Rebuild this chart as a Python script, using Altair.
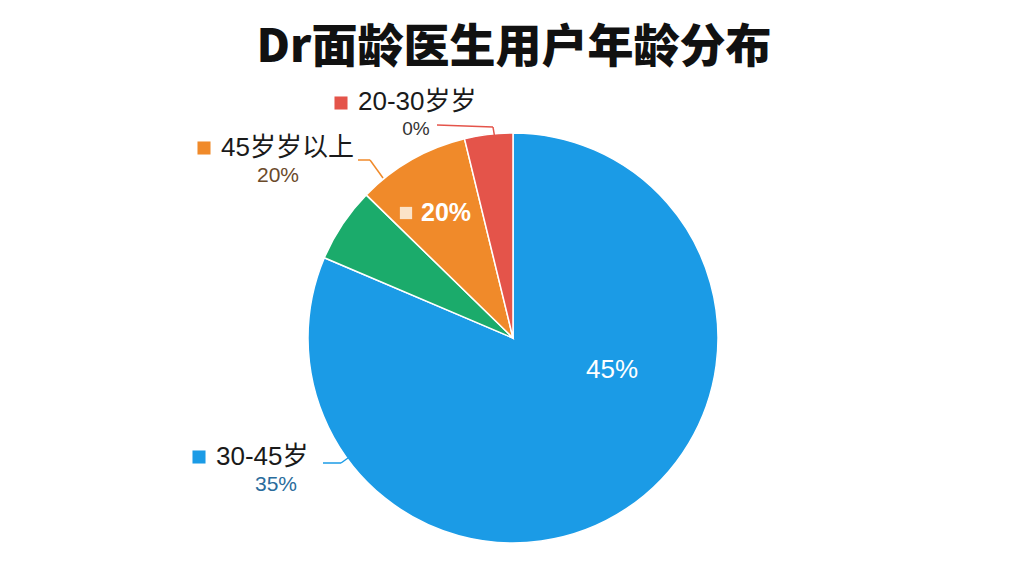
import altair as alt
import pandas as pd

categories = ["30-45岁", "其他", "45岁岁以上", "20-30岁岁"]
shares = [81.4, 5.9, 8.9, 3.8]
colors = ["#1b9be6", "#1bab6b", "#f08a2a", "#e4544a"]

# label texts as printed in the picture
legend_names = ["20-30岁岁", "45岁岁以上", "30-45岁"]
legend_pcts = ["0%", "20%", "35%"]
inner_labels = ["45%", "20%"]
title_text = "Dr面龄医生用户年龄分布"

W, H = 1008, 560
CX, CY, R = 505, 330, 205
FONT = "Noto Sans CJK SC"
LFONT = "Liberation Sans, Noto Sans CJK SC"

pie_df = pd.DataFrame({"cat": categories, "share": shares, "idx": list(range(len(categories)))})

pie = alt.Chart(pie_df).mark_arc(radius=R, stroke="white", strokeWidth=1.5).encode(
    theta=alt.Theta("share:Q", stack=True),
    order=alt.Order("idx:Q"),
    color=alt.Color("cat:N", scale=alt.Scale(domain=categories, range=colors), legend=None),
    x=alt.value(CX),
    y=alt.value(CY),
)

def txt(s, x, y, size, color, weight="normal", align="left", font=LFONT, baseline="middle"):
    return alt.Chart(pd.DataFrame({"t": [s]})).mark_text(
        font=font, fontSize=size, fontWeight=weight, color=color, align=align, baseline=baseline
    ).encode(text="t:N", x=alt.value(x), y=alt.value(y))

def sq(x, y, color, size=170):
    return alt.Chart(pd.DataFrame({"a": [0]})).mark_point(
        shape="square", filled=True, opacity=1, color=color, size=size
    ).encode(x=alt.value(x), y=alt.value(y))

def seg(x1, y1, x2, y2, color, w=1.5):
    return alt.Chart(pd.DataFrame({"a": [0]})).mark_rule(color=color, strokeWidth=w).encode(
        x=alt.value(x1), y=alt.value(y1), x2=alt.value(x2), y2=alt.value(y2)
    )

layers = [
    pie,
    txt(title_text, 506, 54, 46, "#111111", weight=900, align="center", font=FONT, baseline="alphabetic"),
    # 20-30
    sq(333, 95, colors[3]),
    txt(legend_names[0], 350, 94, 26, "#1a1a1a"),
    txt(legend_pcts[0], 408, 121, 19, "#333333", align="center"),
    seg(429, 117, 485, 119, colors[3]),
    seg(485, 119, 487, 131, colors[3]),
    # 45+
    sq(196, 140, colors[2]),
    txt(legend_names[1], 213, 140, 26, "#1a1a1a"),
    txt(legend_pcts[1], 270, 168, 21, "#6b4a2a", align="center"),
    seg(350, 152, 362, 152, colors[2]),
    seg(362, 152, 375, 170, colors[2]),
    # 30-45
    sq(191, 449, colors[0]),
    txt(legend_names[2], 208, 449, 26, "#1a1a1a"),
    txt(legend_pcts[2], 268, 477, 21, "#2a6c9c", align="center"),
    seg(315, 455, 333, 455, colors[0]),
    seg(333, 455, 340, 450, colors[0]),
    # inner labels
    txt(inner_labels[0], 604, 362, 26, "white", weight="normal", align="center"),
    sq(398, 205, "#fbe3c8", size=150),
    txt(inner_labels[1], 413, 205, 25, "white", weight="bold"),
]

chart = alt.layer(*layers).properties(
    width=W, height=H, autosize=alt.AutoSizeParams(type="none"), padding=0, background="white"
).configure_view(stroke=None)

chart.save("out.html", embed_options={"renderer": "svg", "actions": False})
